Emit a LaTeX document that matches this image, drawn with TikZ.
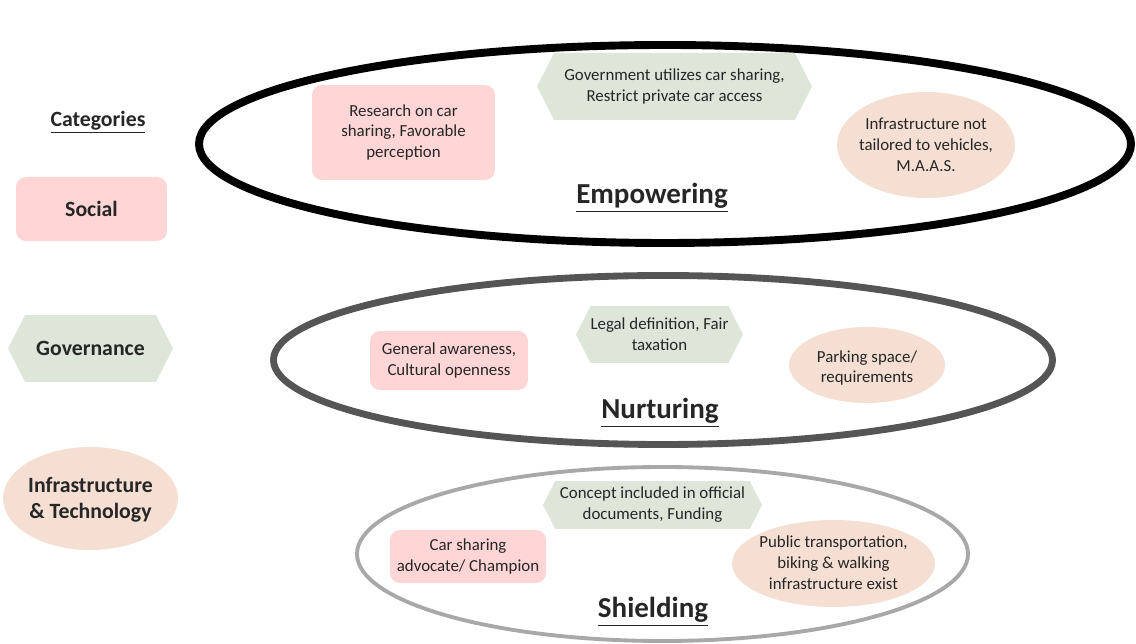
\documentclass[tikz,border=0pt]{standalone}
\usepackage{fontspec}
\setmainfont{Carlito}
\usetikzlibrary{shapes.symbols}
\definecolor{pinkf}{HTML}{FFD5D5}
\definecolor{greenf}{HTML}{DEE6DA}
\definecolor{peachf}{HTML}{F5DFD3}
\definecolor{txt}{HTML}{262626}
\definecolor{ringB}{HTML}{555555}
\definecolor{ringC}{HTML}{A8A8A8}
\begin{document}
\begin{tikzpicture}[x=0.02cm,y=-0.02cm,
  every node/.style={text=txt, font=\fontsize{9.6}{11.9}\selectfont, align=center, inner sep=0pt},
  socbox/.style={fill=pinkf, rounded corners=0.2cm},
  govbox/.style={signal, signal to=west and east, signal pointer angle=126, fill=greenf},
  infell/.style={fill=peachf},
  phase/.style={font=\fontsize{16.5}{20}\selectfont\bfseries},
  cat/.style={font=\fontsize{12.4}{15}\selectfont\bfseries}]
\useasboundingbox (0,0) rectangle (1136,644);
% big rings
\draw[line width=4.5pt, black] (665,144) ellipse (466 and 99);
\draw[line width=3.9pt, ringB] (663,360) ellipse (389.5 and 84.5);
\draw[line width=2.2pt, ringC] (662.5,554) ellipse (305.5 and 87);
% categories
\node[cat] (cats) at (98,122) {\underline{Categories}};
\node[socbox, cat, minimum width=3.02cm, minimum height=1.28cm] (social) at (91.5,209) {Social};
\node[govbox, cat, minimum width=3.3cm, minimum height=1.34cm] (gov) at (90.5,348.5) {Governance};
\fill[peachf] (90.5,498.5) ellipse (87.5 and 51.5);
\node[cat] (infra) at (90.5,500) {Infrastructure\\\& Technology};
% empowering
\node[socbox, minimum width=3.66cm, minimum height=1.9cm] (research) at (403.5,132.5) {Research on car\\sharing, Favorable\\perception};
\node[govbox, minimum width=5.5cm, minimum height=1.34cm] (govt) at (674.5,86.5) {Government utilizes car sharing,\\Restrict private car access};
\fill[peachf] (926,145) ellipse (89 and 53);
\node (infnot) at (926,145) {Infrastructure not\\tailored to vehicles,\\M.A.A.S.};
\node[phase] (emp) at (652,198) {\underline{Empowering}};
% nurturing
\node[socbox, minimum width=3.16cm, minimum height=1.18cm] (aware) at (449,360.5) {General awareness,\\Cultural openness};
\node[govbox, minimum width=3.3cm, minimum height=1.14cm] (legal) at (659.5,334.5) {Legal definition, Fair\\taxation};
\fill[peachf] (867,365) ellipse (78 and 38);
\node (park) at (867,368) {Parking space/\\requirements};
\node[phase] (nur) at (660,413) {\underline{Nurturing}};
% shielding
\node[govbox, minimum width=4.38cm, minimum height=0.96cm] (concept) at (652.5,505) {Concept included in official\\documents, Funding};
\node[socbox, minimum width=3.12cm, minimum height=1.06cm] (champ) at (468,556.5) {Car sharing\\advocate/ Champion};
\fill[peachf] (833.5,563.5) ellipse (101.5 and 43.5);
\node (public) at (833.5,563) {Public transportation,\\biking \& walking\\infrastructure exist};
\node[phase] (shi) at (653,612) {\underline{Shielding}};
\end{tikzpicture}
\end{document}
